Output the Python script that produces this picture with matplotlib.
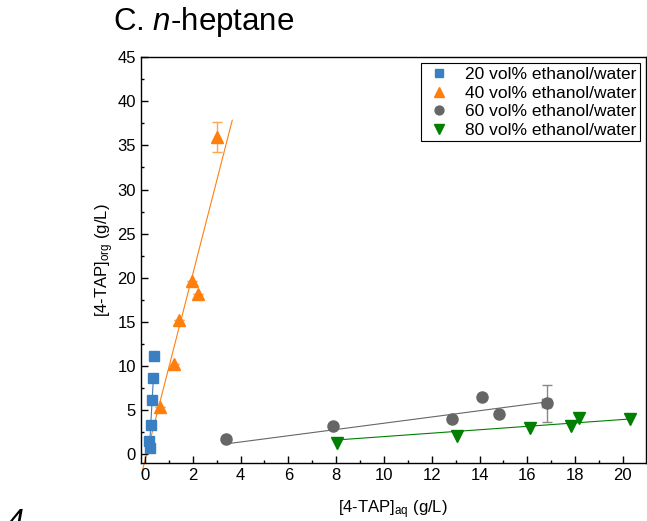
"""
Partition plot: 4-TAP in n-heptane vs aqueous ethanol phase
"""

### Import modules
import numpy as np
import matplotlib
matplotlib.use('Agg')
import matplotlib.pyplot as plt
from matplotlib.ticker import MultipleLocator

### Data (x = [4-TAP]aq, y = [4-TAP]org, g/L)
x20 = [0.21, 0.17, 0.24, 0.31, 0.35, 0.38]
y20 = [0.63, 1.46, 3.28, 6.11, 8.64, 11.1]

x40 = [0.63, 1.23, 1.42, 1.95, 2.23, 3.00]
y40 = [5.35, 10.2, 15.2, 19.6, 18.1, 35.96]
err40 = [0, 0, 0, 0, 0, 1.65]

x60 = [3.39, 7.88, 12.86, 14.11, 14.81, 16.81]
y60 = [1.69, 3.16, 3.92, 6.42, 4.49, 5.74]
yerr60 = [0, 0, 0, 0, 0, 2.1]
xerr60 = [0, 0, 0, 0, 0, 0.2]

x80 = [8.02, 13.07, 16.11, 17.81, 18.17, 20.29]
y80 = [1.27, 2.07, 2.90, 3.20, 4.03, 3.92]

### Linear fits (slope, intercept) and drawn range, as shown in the figure
fit20 = (48.0, -8.2)
fit40 = (10.57, -0.72)
fit60 = (0.355, -0.07)
fit80 = (0.194, 0.024)
span20 = (0.20, 0.36)
span40 = (-0.14, 3.65)

labels = ['20 vol% ethanol/water', '40 vol% ethanol/water',
          '60 vol% ethanol/water', '80 vol% ethanol/water']

### Colours
cblue = '#3a7fc1'
corange = '#ff7f0e'
cgray = '#666666'
cgreen = '#007f00'

### Style
plt.rcParams['font.family'] = ['Liberation Sans', 'DejaVu Sans']
plt.rcParams['mathtext.fontset'] = 'custom'
plt.rcParams['mathtext.rm'] = 'Liberation Sans'
plt.rcParams['mathtext.it'] = 'Liberation Sans:italic'

fig = plt.figure(figsize=(6.47, 5.21), dpi=100)
ax = fig.add_axes([0.2175, 0.1107, 0.7803, 0.7793])

def fitline(span, fit, color, clip=True):
    xx = np.array(span)
    ax.plot(xx, fit[0]*xx + fit[1], color=color, linewidth=0.8,
            zorder=1, clip_on=clip)

fitline(span20, fit20, cblue)
fitline(span40, fit40, corange, clip=False)
fitline((min(x60), max(x60)), fit60, cgray)
fitline((min(x80), max(x80)), fit80, cgreen)

ax.errorbar(x40, y40, yerr=err40, fmt='none', ecolor='#ffa550',
            elinewidth=1, capsize=3.5, capthick=1, zorder=2)
ax.errorbar(x60, y60, yerr=yerr60, xerr=xerr60, fmt='none', ecolor='#888888',
            elinewidth=1, capsize=3.5, capthick=1, zorder=2)

ax.plot(x20, y20, 's', color=cblue, markersize=6.5, linestyle='none',
        label=labels[0], zorder=3)
ax.plot(x40, y40, '^', color=corange, markersize=9, linestyle='none',
        label=labels[1], zorder=3)
ax.plot(x60, y60, 'o', color=cgray, markersize=8, linestyle='none',
        label=labels[2], zorder=3)
ax.plot(x80, y80, 'v', color=cgreen, markersize=9, linestyle='none',
        label=labels[3], zorder=3)

### Axes
ax.set_xlim(-0.18, 20.95)
ax.set_ylim(-1.07, 45)
ax.xaxis.set_major_locator(MultipleLocator(2))
ax.xaxis.set_minor_locator(MultipleLocator(1))
ax.yaxis.set_major_locator(MultipleLocator(5))
ax.yaxis.set_minor_locator(MultipleLocator(2.5))
ax.tick_params(which='both', direction='in', top=False, right=False,
               width=1, labelsize=12)
ax.tick_params(which='major', length=5)
ax.tick_params(which='minor', length=2.5)
for sp in ax.spines.values():
    sp.set_linewidth(1)

ax.set_xlabel(r'[4-TAP]$_{\rm aq}$ (g/L)', fontsize=12, labelpad=11)
ax.set_ylabel(r'[4-TAP]$_{\rm org}$ (g/L)', fontsize=12, labelpad=1)

leg = ax.legend(loc='upper right', fontsize=12.5, frameon=True, fancybox=False,
                framealpha=1, edgecolor='black', handletextpad=0.7,
                borderpad=0.2, labelspacing=0.2, handlelength=1.6,
                borderaxespad=0.35, markerscale=0.8)
leg.get_frame().set_linewidth(0.8)

### Panel title and stray label
fig.text(113/647, 1-30/521, r'C. $\it{n}$-heptane', fontsize=22.5,
         ha='left', va='baseline')
fig.text(7/647, -0.02, '4', fontsize=22, style='italic',
         ha='left', va='baseline')

plt.savefig('out.png', dpi=100)
